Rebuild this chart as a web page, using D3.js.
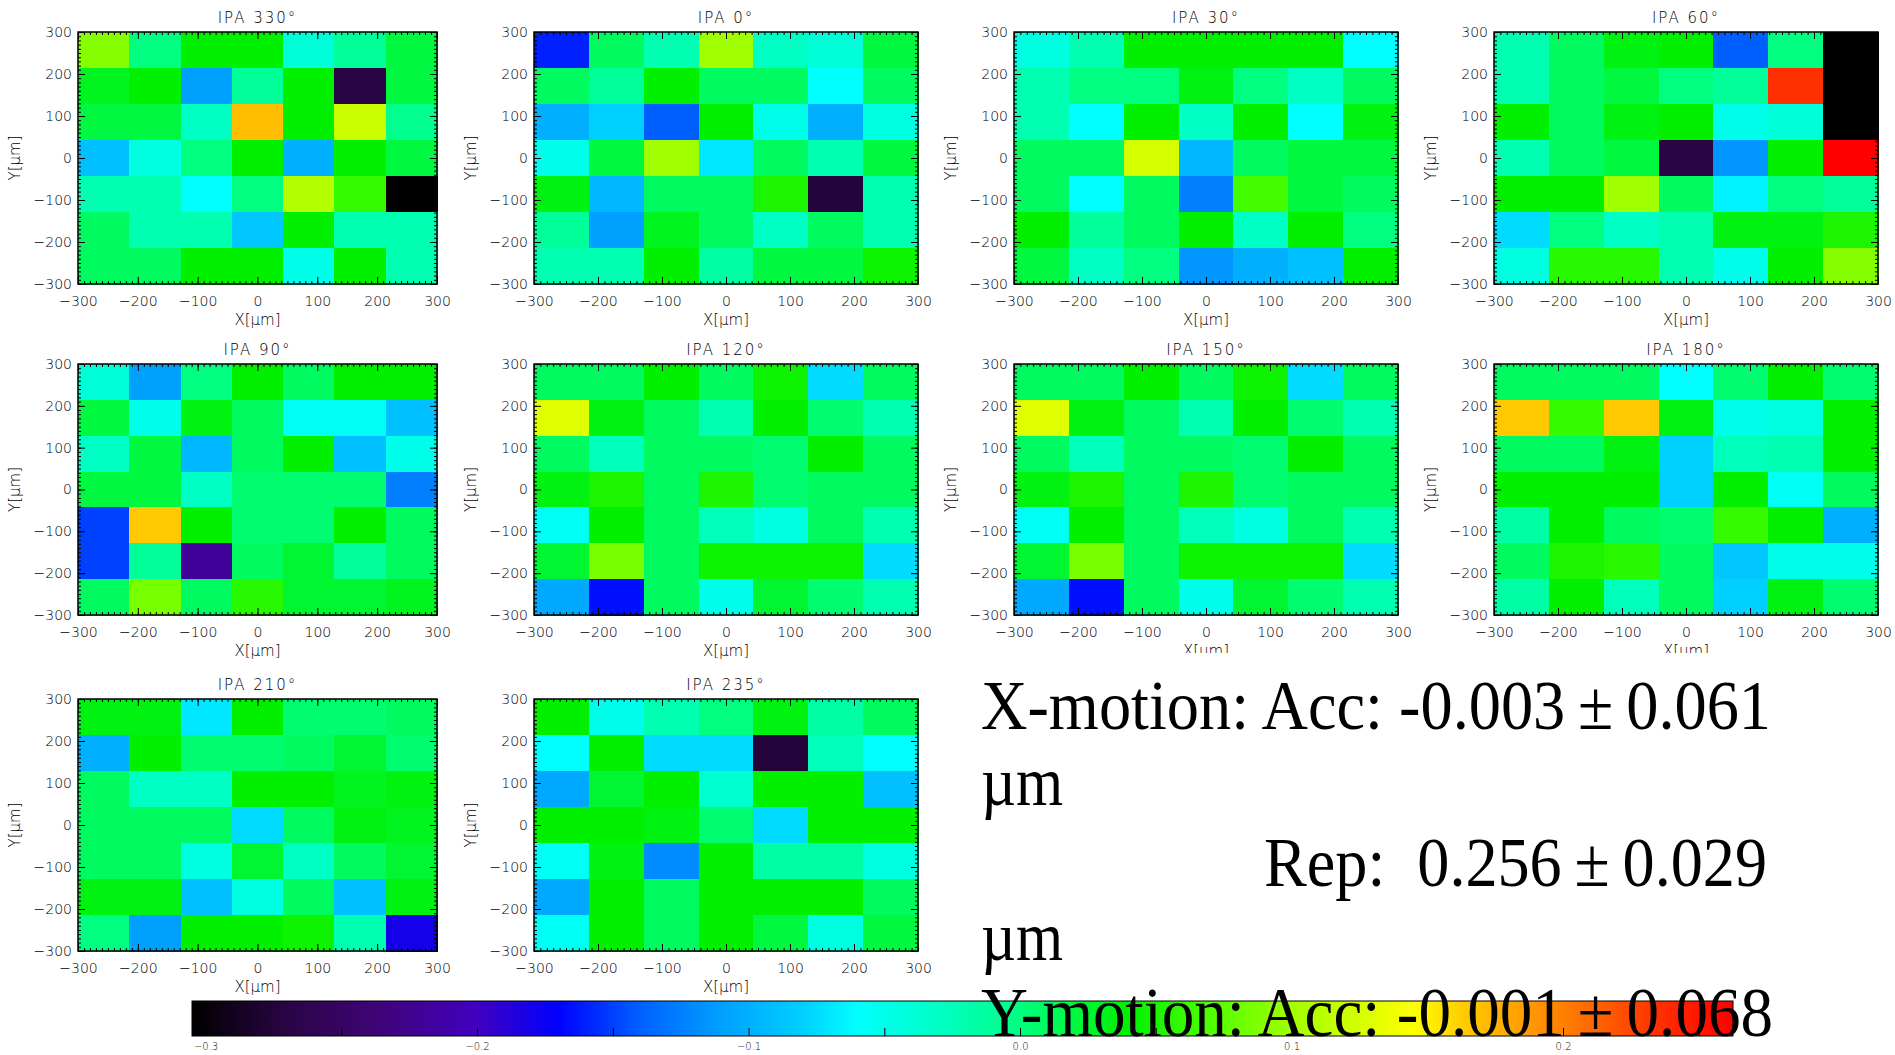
<!DOCTYPE html>
<html>
<head>
<meta charset="utf-8">
<script src="https://cdn.jsdelivr.net/npm/d3@7"></script>
<style>
  body { margin: 0; background: #fff; }
  svg { display: block; }
</style>
</head>
<body>
<svg id="chart" width="1895" height="1055"></svg>
<script>
// IPA angle of each panel, in drawing order (4 per row)
var ipaAngles = [330, 0, 30, 60, 90, 120, 150, 180, 210, 235];

// residuals per 7x7 cell, rows from Y=+300 down to Y=-300, columns X=-300 -> +300
var ipa330 = [
  [0.09, 0.0, 0.04, 0.04, -0.04, -0.01, 0.02],
  [0.03, 0.04, -0.11, -0.01, 0.04, -0.27, 0.02],
  [0.02, 0.02, -0.03, 0.17, 0.04, 0.12, -0.005],
  [-0.09, -0.045, 0.0, 0.04, -0.10, 0.04, 0.02],
  [-0.02, -0.02, -0.06, 0.0, 0.11, 0.06, -0.32],
  [0.01, -0.02, -0.02, -0.085, 0.04, -0.02, -0.02],
  [0.01, 0.01, 0.04, 0.04, -0.05, 0.04, -0.02]
];
var ipa0 = [
  [-0.16, 0.01, -0.02, 0.10, -0.03, -0.04, 0.02],
  [0.01, -0.01, 0.04, 0.01, 0.01, -0.06, 0.01],
  [-0.10, -0.08, -0.14, 0.04, -0.05, -0.10, -0.045],
  [-0.05, 0.02, 0.10, -0.07, 0.01, -0.02, 0.02],
  [0.035, -0.095, 0.01, 0.01, 0.05, -0.275, -0.02],
  [-0.01, -0.11, 0.03, 0.01, -0.03, 0.01, -0.02],
  [-0.02, -0.02, 0.04, -0.015, 0.02, 0.02, 0.045]
];
var ipa30 = [
  [-0.045, -0.02, 0.04, 0.04, 0.04, 0.04, -0.06],
  [-0.02, 0.0, 0.0, 0.035, 0.0, -0.03, 0.01],
  [-0.02, -0.06, 0.04, -0.03, 0.04, -0.06, 0.035],
  [0.01, 0.01, 0.125, -0.095, 0.01, 0.02, 0.02],
  [0.01, -0.06, 0.01, -0.125, 0.065, 0.02, 0.01],
  [0.04, -0.01, 0.01, 0.04, -0.03, 0.04, 0.0],
  [0.02, -0.03, 0.0, -0.115, -0.10, -0.09, 0.04]
];
var ipa60 = [
  [-0.02, 0.01, 0.035, 0.04, -0.14, 0.0, -0.32],
  [-0.02, 0.01, 0.02, 0.0, -0.01, 0.235, -0.32],
  [0.04, 0.01, 0.035, 0.04, -0.05, -0.04, -0.32],
  [-0.02, 0.01, 0.02, -0.27, -0.115, 0.04, 0.27],
  [0.04, 0.04, 0.10, 0.01, -0.065, 0.0, -0.01],
  [-0.075, 0.0, -0.03, -0.02, 0.035, 0.035, 0.05],
  [-0.045, 0.055, 0.055, -0.02, -0.05, 0.04, 0.09]
];
var ipa90 = [
  [-0.04, -0.11, 0.0, 0.04, 0.01, 0.04, 0.04],
  [0.02, -0.05, 0.035, 0.01, -0.055, -0.055, -0.09],
  [-0.03, 0.02, -0.095, 0.01, 0.04, -0.09, -0.05],
  [0.02, 0.02, -0.03, 0.005, 0.005, 0.005, -0.125],
  [-0.15, 0.165, 0.04, 0.005, 0.005, 0.04, 0.01],
  [-0.15, -0.01, -0.22, 0.01, 0.025, -0.01, 0.01],
  [0.01, 0.085, 0.01, 0.055, 0.025, 0.025, 0.03]
];
var ipa120 = [
  [0.01, 0.01, 0.04, 0.01, 0.045, -0.075, 0.01],
  [0.13, 0.035, 0.01, -0.02, 0.04, 0.005, -0.02],
  [0.01, -0.025, 0.01, 0.01, 0.005, 0.04, 0.01],
  [0.035, 0.05, 0.01, 0.05, 0.005, 0.01, 0.01],
  [-0.055, 0.04, 0.01, -0.025, -0.045, 0.01, -0.02],
  [0.025, 0.085, 0.01, 0.045, 0.045, 0.045, -0.075],
  [-0.105, -0.165, 0.01, -0.05, 0.025, 0.005, -0.02]
];
var ipa150 = [
  [0.01, 0.01, 0.04, 0.01, 0.045, -0.075, 0.01],
  [0.13, 0.035, 0.01, -0.02, 0.04, 0.005, -0.02],
  [0.01, -0.025, 0.01, 0.01, 0.005, 0.04, 0.01],
  [0.035, 0.05, 0.01, 0.05, 0.005, 0.01, 0.01],
  [-0.055, 0.04, 0.01, -0.025, -0.045, 0.01, -0.02],
  [0.025, 0.085, 0.01, 0.045, 0.045, 0.045, -0.075],
  [-0.105, -0.165, 0.01, -0.05, 0.025, 0.005, -0.02]
];
var ipa180 = [
  [0.01, 0.01, 0.01, -0.06, 0.005, 0.04, 0.005],
  [0.165, 0.06, 0.165, 0.035, -0.05, -0.045, 0.04],
  [0.01, 0.01, 0.035, -0.08, -0.025, -0.02, 0.04],
  [0.04, 0.04, 0.04, -0.08, 0.04, -0.055, 0.01],
  [-0.015, 0.04, 0.01, 0.005, 0.06, 0.04, -0.10],
  [0.01, 0.05, 0.055, 0.01, -0.085, -0.05, -0.05],
  [-0.015, 0.04, -0.025, 0.01, -0.08, 0.035, 0.005]
];
var ipa210 = [
  [0.035, 0.035, -0.07, 0.04, 0.005, 0.005, 0.01],
  [-0.10, 0.04, 0.005, 0.005, 0.01, 0.025, 0.005],
  [0.01, -0.03, -0.03, 0.04, 0.04, 0.03, 0.035],
  [0.01, 0.01, 0.01, -0.075, 0.01, 0.035, 0.03],
  [0.01, 0.01, -0.045, 0.025, -0.03, 0.01, 0.025],
  [0.035, 0.035, -0.09, -0.045, 0.01, -0.09, 0.035],
  [0.0, -0.11, 0.04, 0.04, 0.045, -0.02, -0.18]
];
var ipa235 = [
  [0.04, -0.05, -0.02, 0.0, 0.035, -0.015, 0.01],
  [-0.06, 0.04, -0.075, -0.075, -0.275, -0.025, -0.06],
  [-0.105, 0.025, 0.04, -0.035, 0.04, 0.04, -0.09],
  [0.04, 0.04, 0.035, 0.005, -0.075, 0.04, 0.04],
  [-0.055, 0.035, -0.12, 0.04, -0.015, -0.015, -0.045],
  [-0.105, 0.04, 0.01, 0.04, 0.04, 0.04, 0.01],
  [-0.055, 0.04, 0.01, 0.04, 0.02, -0.045, 0.02]
];
var panels = [ipa330, ipa0, ipa30, ipa60, ipa90, ipa120, ipa150, ipa180, ipa210, ipa235];

var axisTicks = [-300, -200, -100, 0, 100, 200, 300];
var minorTicks = d3.range(-300, 301, 10);
var colorbarTicks = [-0.3, -0.25, -0.2, -0.15, -0.1, -0.05, 0.0, 0.05, 0.1, 0.15, 0.2, 0.25];
var colorbarRange = [-0.305, 0.2626];

// rainbow colour table (black -> purple -> blue -> cyan -> green -> yellow -> red)
var cmapValues = [-0.305, -0.27, -0.235, -0.2, -0.17, -0.14, -0.11, -0.08, -0.06, -0.02, 0.0, 0.04, 0.07, 0.1, 0.13, 0.145, 0.165, 0.2, 0.235, 0.2626];
var cmapColors = ["#000000", "#2a0545", "#40047a", "#4000c0", "#0000ff", "#0060ff", "#00a0ff", "#00d0ff", "#00ffff", "#00ffb0", "#00ff80", "#00f000", "#50ff00", "#a0ff00", "#e0ff00", "#ffff00", "#ffc800", "#ff8000", "#ff3000", "#ff0000"];

// thin spaces round the ± sign, which is set wide in the original slide
var statLines = [
  { text: "X-motion: Acc: -0.003\u2009\u00b1\u20090.061", x: 981, y: 729, len: 790 },
  { text: "\u00b5m", x: 981, y: 805, len: 82 },
  { text: "Rep:  0.256\u2009\u00b1\u20090.029", x: 1264, y: 886, len: 503 },
  { text: "\u00b5m", x: 981, y: 960, len: 82 },
  { text: "Y-motion: Acc: -0.001\u2009\u00b1\u20090.068", x: 981, y: 1036, len: 792 }
];

var svg = d3.select("#chart");
var colLeft = [78, 534, 1014, 1494], colWidth = [359, 384, 384, 384];
var rowTop = [32, 364, 699], rowHeight = [252, 251, 252];
var labelFont = "DejaVu Sans";

var color = d3.scaleLinear().domain(cmapValues).range(cmapColors).clamp(true);
var edges = d3.range(8).map(function (i) { return -300 + i * 600 / 7; });

var defs = svg.append("defs");
defs.append("clipPath").attr("id", "cut")
  .append("rect").attr("x", 0).attr("y", 0).attr("width", 1895).attr("height", 653);

function styleAxis(sel, size) {
  sel.select(".domain").remove();
  sel.selectAll("line").attr("stroke", "#000").attr("stroke-width", 1);
  sel.selectAll("text").attr("font-family", labelFont).attr("font-size", size)
    .attr("font-weight", 300).attr("fill", "#000");
}

panels.forEach(function (grid, i) {
  var r = Math.floor(i / 4), c = i % 4;
  var left = colLeft[c], top = rowTop[r], w = colWidth[c], h = rowHeight[r];
  var x = d3.scaleLinear().domain([-300, 300]).range([left, left + w]);
  var y = d3.scaleLinear().domain([-300, 300]).range([top + h, top]);
  var g = svg.append("g");
  if (r == 1 && c >= 2) g.attr("clip-path", "url(#cut)");

  var cells = [];
  grid.forEach(function (row, ri) {
    row.forEach(function (v, ci) { cells.push({ r: ri, c: ci, v: v }); });
  });
  g.append("g").selectAll("rect").data(cells).enter().append("rect")
    .attr("x", function (d) { return x(edges[d.c]); })
    .attr("y", function (d) { return y(edges[7 - d.r]); })
    .attr("width", function (d) { return x(edges[d.c + 1]) - x(edges[d.c]) + 0.6; })
    .attr("height", function (d) { return y(edges[6 - d.r]) - y(edges[7 - d.r]) + 0.6; })
    .attr("fill", function (d) { return color(d.v); })
    .attr("shape-rendering", "crispEdges");

  // inward ticks on all four sides, labels bottom and left
  g.append("g").attr("transform", "translate(0," + (top + h) + ")")
    .call(d3.axisBottom(x).tickValues(minorTicks).tickSizeInner(-3).tickSizeOuter(0).tickFormat(""))
    .call(styleAxis, 14);
  g.append("g").attr("transform", "translate(0," + top + ")")
    .call(d3.axisTop(x).tickValues(minorTicks).tickSizeInner(-3).tickSizeOuter(0).tickFormat(""))
    .call(styleAxis, 14);
  g.append("g").attr("transform", "translate(" + left + ",0)")
    .call(d3.axisLeft(y).tickValues(minorTicks).tickSizeInner(-3).tickSizeOuter(0).tickFormat(""))
    .call(styleAxis, 14);
  g.append("g").attr("transform", "translate(" + (left + w) + ",0)")
    .call(d3.axisRight(y).tickValues(minorTicks).tickSizeInner(-3).tickSizeOuter(0).tickFormat(""))
    .call(styleAxis, 14);

  g.append("g").attr("transform", "translate(0," + (top + h) + ")")
    .call(d3.axisBottom(x).tickValues(axisTicks).tickSizeInner(-7).tickSizeOuter(0).tickPadding(12))
    .call(styleAxis, 14);
  g.append("g").attr("transform", "translate(0," + top + ")")
    .call(d3.axisTop(x).tickValues(axisTicks).tickSizeInner(-7).tickSizeOuter(0).tickFormat(""))
    .call(styleAxis, 14);
  g.append("g").attr("transform", "translate(" + left + ",0)")
    .call(d3.axisLeft(y).tickValues(axisTicks).tickSizeInner(-7).tickSizeOuter(0).tickPadding(6))
    .call(styleAxis, 14);
  g.append("g").attr("transform", "translate(" + (left + w) + ",0)")
    .call(d3.axisRight(y).tickValues(axisTicks).tickSizeInner(-7).tickSizeOuter(0).tickFormat(""))
    .call(styleAxis, 14);

  g.append("rect").attr("x", left).attr("y", top).attr("width", w).attr("height", h)
    .attr("fill", "none").attr("stroke", "#000").attr("stroke-width", 1.5);

  g.append("text").attr("x", left + w / 2).attr("y", top - 9)
    .attr("text-anchor", "middle").attr("font-family", labelFont).attr("font-weight", 300)
    .attr("font-size", 15).attr("letter-spacing", 2).attr("fill", "#000")
    .text("IPA " + ipaAngles[i] + "\u00b0");
  g.append("text").attr("x", left + w / 2).attr("y", top + h + 41)
    .attr("text-anchor", "middle").attr("font-family", labelFont).attr("font-weight", 300)
    .attr("font-size", 15).attr("fill", "#000")
    .text("X[\u00b5m]");
  g.append("text").attr("transform", "translate(" + (left - 58) + "," + (top + h / 2) + ") rotate(-90)")
    .attr("text-anchor", "middle").attr("font-family", labelFont).attr("font-weight", 300)
    .attr("font-size", 15).attr("fill", "#000")
    .text("Y[\u00b5m]");
});

// colour bar
var cbX = d3.scaleLinear().domain(colorbarRange).range([192, 1733]);
var grad = defs.append("linearGradient").attr("id", "cbar").attr("x1", "0%").attr("x2", "100%");
grad.selectAll("stop").data(cmapValues).enter().append("stop")
  .attr("offset", function (d) { return ((d - colorbarRange[0]) / (colorbarRange[1] - colorbarRange[0]) * 100) + "%"; })
  .attr("stop-color", function (d) { return color(d); });
svg.append("rect").attr("x", cbX(colorbarRange[0])).attr("y", 1001)
  .attr("width", cbX(colorbarRange[1]) - cbX(colorbarRange[0])).attr("height", 35)
  .attr("fill", "url(#cbar)").attr("stroke", "#000").attr("stroke-width", 1);
svg.append("g").attr("transform", "translate(0,1036)")
  .call(d3.axisBottom(cbX).tickValues(colorbarTicks).tickSizeInner(-8).tickSizeOuter(0).tickPadding(7)
    .tickFormat(function (d) { return Math.round(d * 100) % 10 === 0 ? d3.format(".1f")(d) : ""; }))
  .call(styleAxis, 10);

// statistics text
svg.append("g").selectAll("text").data(statLines).enter().append("text")
  .attr("x", function (d) { return d.x; })
  .attr("y", function (d) { return d.y; })
  .attr("textLength", function (d) { return d.len; })
  .attr("lengthAdjust", "spacingAndGlyphs")
  .attr("font-family", "Liberation Serif, Times New Roman, serif")
  .attr("font-size", 70)
  .attr("fill", "#000")
  .style("white-space", "pre")
  .text(function (d) { return d.text; });
</script>
</body>
</html>
